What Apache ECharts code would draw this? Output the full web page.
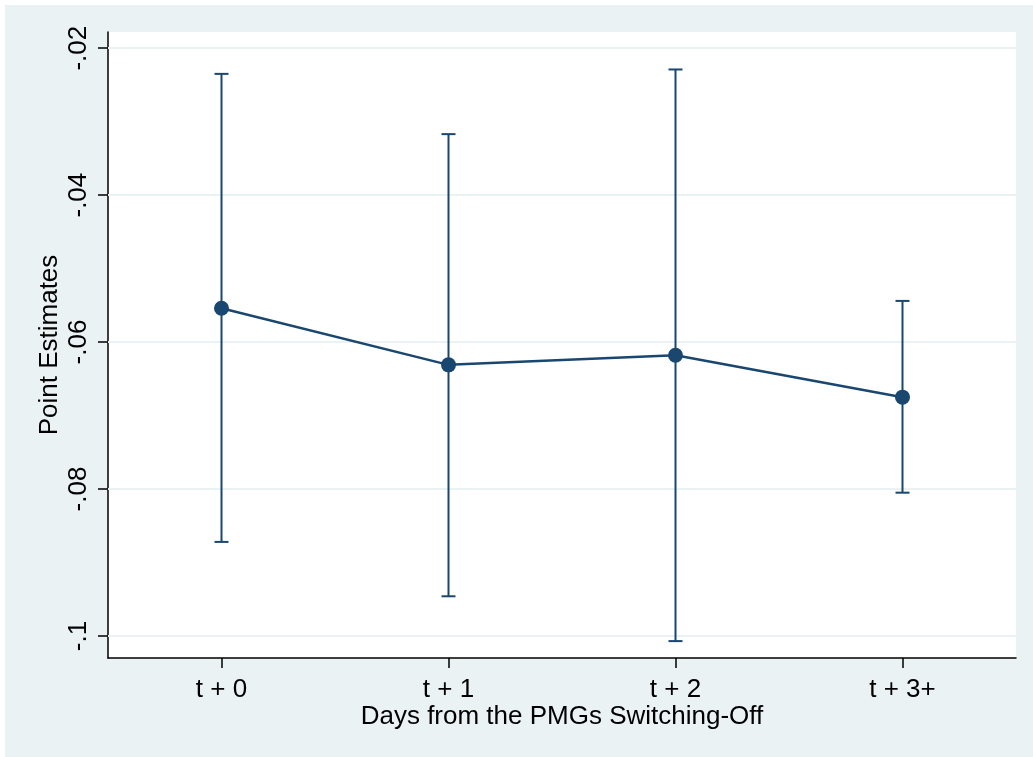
<!DOCTYPE html>
<html>
<head>
<meta charset="utf-8">
<script src="https://cdn.jsdelivr.net/npm/echarts@6/dist/echarts.min.js"></script>
<style>
  html, body { margin: 0; padding: 0; background: #ffffff; }
  #c { position: absolute; left: 5px; top: 5px; width: 1028px; height: 752px; }
</style>
</head>
<body>
<div id="c"></div>
<script>
// ---- data ----
const categories = ['t + 0', 't + 1', 't + 2', 't + 3+'];
const estimates  = [-0.0554, -0.0631, -0.0618, -0.0675];
const lowerCI    = [-0.0872, -0.0946, -0.1007, -0.0805];
const upperCI    = [-0.0235, -0.0317, -0.0229, -0.0544];
const yTicks     = [-0.1, -0.08, -0.06, -0.04, -0.02];

const navy = '#1A476F';
const font = 'Liberation Sans, Arial, sans-serif';

function fmt(v) {
  let s = String(Number(v.toFixed(4)));
  return s.replace('0.', '.');
}

const chart = echarts.init(document.getElementById('c'), null, { renderer: 'canvas' });

const errData = categories.map((c, i) => [i, lowerCI[i], upperCI[i]]);

chart.setOption({
  backgroundColor: '#EAF2F3',
  animation: false,
  grid: {
    left: 103, top: 27, right: 17, bottom: 99,
    show: true, backgroundColor: '#ffffff', borderWidth: 0
  },
  xAxis: {
    type: 'category',
    data: categories,
    boundaryGap: true,
    axisLine: { show: true, lineStyle: { color: '#000', width: 1.5 } },
    axisTick: { show: true, alignWithLabel: true, length: 10, lineStyle: { color: '#000', width: 1.5 } },
    axisLabel: { color: '#000', fontSize: 26, fontFamily: font, margin: 19 },
    splitLine: { show: false },
    name: 'Days from the PMGs Switching-Off',
    nameLocation: 'middle',
    nameMoveOverlap: false,
    nameGap: 46,
    nameTextStyle: { color: '#000', fontSize: 26, fontFamily: font }
  },
  yAxis: {
    type: 'value',
    min: -0.103,
    max: -0.0178,
    axisLine: { show: true, lineStyle: { color: '#000', width: 1.5 } },
    axisTick: { show: true, length: 10, customValues: yTicks, lineStyle: { color: '#000', width: 1.5 } },
    axisLabel: {
      customValues: yTicks,
      rotate: 90, color: '#000', fontSize: 26, fontFamily: font, margin: 16,
      formatter: fmt
    },
    splitLine: { show: false },
    name: 'Point Estimates',
    nameLocation: 'middle',
    nameMoveOverlap: false,
    nameGap: 45,
    nameTextStyle: { color: '#000', fontSize: 26, fontFamily: font }
  },
  series: [
    {
      type: 'line',
      data: [],
      silent: true,
      z: 1,
      zlevel: 0,
      markLine: {
        silent: true,
        z: 1,
        symbol: 'none',
        label: { show: false },
        lineStyle: { color: '#EAF2F3', width: 2, type: 'solid' },
        data: yTicks.map(v => ({ yAxis: v }))
      }
    },
    {
      type: 'custom',
      data: errData,
      z: 6,
      renderItem: function (params, api) {
        const x = api.value(0);
        const lo = api.coord([x, api.value(1)]);
        const hi = api.coord([x, api.value(2)]);
        const cap = 7;
        const style = { stroke: navy, lineWidth: 2, fill: null };
        return {
          type: 'group',
          children: [
            { type: 'line', shape: { x1: lo[0], y1: lo[1], x2: hi[0], y2: hi[1] }, style: style },
            { type: 'line', shape: { x1: lo[0] - cap, y1: lo[1], x2: lo[0] + cap, y2: lo[1] }, style: style },
            { type: 'line', shape: { x1: hi[0] - cap, y1: hi[1], x2: hi[0] + cap, y2: hi[1] }, style: style }
          ]
        };
      }
    },
    {
      type: 'line',
      data: estimates,
      z: 7,
      symbol: 'circle',
      symbolSize: 15,
      showSymbol: true,
      lineStyle: { color: navy, width: 2.5 },
      itemStyle: { color: navy }
    }
  ]
});
</script>
</body>
</html>
